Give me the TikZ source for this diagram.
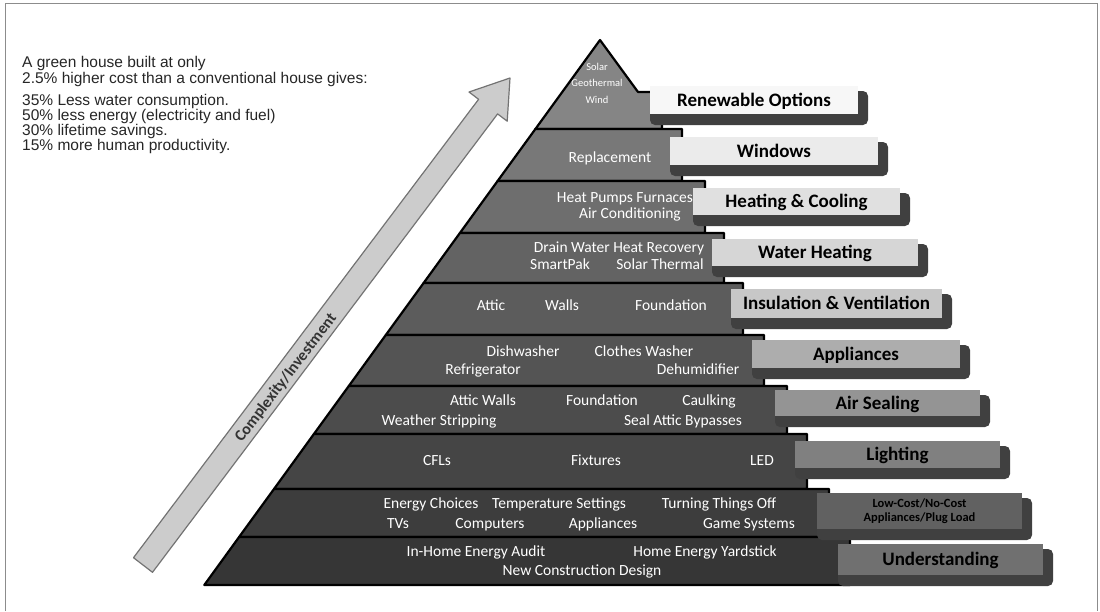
\documentclass[tikz,border=0pt]{standalone}
\usepackage{fontspec}
\setmainfont{Carlito}
\newfontfamily\arialf{Liberation Sans}
\usetikzlibrary{calc}
\newcommand{\pyrtab}[7]{%
  \fill[tabshade] (#2,#3+5) rectangle (#4+10,#5+11);
  \fill[#6] (#2,#3) rectangle (#4,#5);
  \node[tabtxt] (#1) at ({(#2+#4)/2},{(#3+#5)/2+6}) {#7};
}
\begin{document}
\begin{tikzpicture}[x=1pt,y=-1pt,
  band/.style={draw=black, line width=2.2pt, line join=round},
  btxt/.style={text=white, font=\fontsize{15.5}{17}\selectfont, anchor=base, inner sep=0pt},
  stxt/.style={text=white, font=\fontsize{10.5}{11}\selectfont, anchor=base, inner sep=0pt},
  tabtxt/.style={text=black, font=\bfseries\fontsize{19}{20}\selectfont, anchor=base, inner sep=0pt},
  tabshade/.style={black!75, rounded corners=5pt},
  ltxt/.style={text=black!85, font=\arialf\fontsize{15.5}{16}\selectfont, anchor=base west, inner sep=0pt},
  arrowbody/.style={fill=black!20, draw=black!55, line width=1.2pt, line join=round},
  arrowtxt/.style={text=black!80, font=\bfseries\fontsize{16}{16}\selectfont, inner sep=0pt}
]
\useasboundingbox (0,0) rectangle (1100,611);
% frame
\draw[black!45, line width=1pt] (5,611) -- (5,3) -- (1097,3) -- (1097,611);

% left text
\node[ltxt] (l1) at (22,67) {A green house built at only};
\node[ltxt] (l2) at (22,83) {2.5\% higher cost than a conventional house gives:};
\node[ltxt] (l3) at (22,105) {35\% Less water consumption.};
\node[ltxt] (l4) at (22,120) {50\% less energy (electricity and fuel)};
\node[ltxt] (l5) at (22,135) {30\% lifetime savings.};
\node[ltxt] (l6) at (22,150) {15\% more human productivity.};

% arrow
\coordinate (ab1) at (152.5,572.3);
\coordinate (ab2) at (133.5,557.7);
\coordinate (ah1) at (497.6,113.9);
\coordinate (ah2) at (507.2,121.2);
\coordinate (atip) at (510,78);
\coordinate (ah3) at (469.0,92.0);
\coordinate (ah4) at (478.6,99.3);
\path[arrowbody] (ab1) -- (ah1) -- (ah2) -- (atip) -- (ah3) -- (ah4) -- (ab2) -- cycle;
\node[arrowtxt, rotate=52.6] (ctxt) at (286,378) {Complexity/Investment};

% bands
\path[band, fill=black!48] (600,40) -- (638,92) -- (662,92) -- (662,129) -- (535.4,129) -- cycle;
\path[band, fill=black!53] (535.4,129) -- (682,129) -- (682,181) -- (497.6,181) -- cycle;
\path[band, fill=black!57] (497.6,181) -- (705,181) -- (705,233) -- (459.9,233) -- cycle;
\path[band, fill=black!61] (459.9,233) -- (724,233) -- (724,283) -- (423.6,283) -- cycle;
\path[band, fill=black!64] (423.6,283) -- (743,283) -- (743,335) -- (385.8,335) -- cycle;
\path[band, fill=black!67] (385.8,335) -- (764,335) -- (764,386) -- (348.8,386) -- cycle;
\path[band, fill=black!70] (348.8,386) -- (787,386) -- (787,434) -- (313.9,434) -- cycle;
\path[band, fill=black!73] (313.9,434) -- (807,434) -- (807,489) -- (274,489) -- cycle;
\path[band, fill=black!76] (274,489) -- (829,489) -- (829,537) -- (239.1,537) -- cycle;
\path[band, fill=black!79] (239.1,537) -- (850,537) -- (850,585) -- (204.3,585) -- cycle;

% tabs
\pyrtab{t1}{650}{86}{858}{114}{black!3}{Renewable Options}
\pyrtab{t2}{670}{137}{878}{165}{black!8}{Windows}
\pyrtab{t3}{693}{188}{900}{215}{black!12}{Heating \& Cooling}
\pyrtab{t4}{712}{239}{918}{266}{black!16}{Water Heating}
\pyrtab{t5}{731}{289}{942}{318}{black!22}{Insulation \& Ventilation}
\pyrtab{t6}{752}{340}{960}{368}{black!32}{Appliances}
\pyrtab{t7}{775}{390}{980}{416}{black!42}{Air Sealing}
\pyrtab{t8}{795}{441}{1000}{468}{black!50}{Lighting}
\fill[tabshade] (817,498) rectangle (1032,540);
\fill[black!62] (817,493) rectangle (1022,529);
\node[text=black, font=\bfseries\fontsize{12.5}{13.5}\selectfont, align=center, inner sep=0pt] (t9) at (919.5,511) {Low-Cost/No-Cost\\Appliances/Plug Load};
\pyrtab{t10}{838}{544}{1043}{575}{black!56}{Understanding}

% band texts
\node[stxt] (s1) at (597,70) {Solar};
\node[stxt] (s2) at (597,86) {Geothermal};
\node[stxt] (s3) at (597,103) {Wind};
\node[btxt] (r2) at (610,162) {Replacement};
\node[btxt] (r3a) at (625,202) {Heat Pumps Furnaces};
\node[btxt] (r3b) at (630,218) {Air Conditioning};
\node[btxt] (r4a) at (619,252) {Drain Water Heat Recovery};
\node[btxt] (r4b) at (560,269) {SmartPak};
\node[btxt] (r4c) at (660,269) {Solar Thermal};
\node[btxt] (r5a) at (491,310) {Attic};
\node[btxt] (r5b) at (562,310) {Walls};
\node[btxt] (r5c) at (671,310) {Foundation};
\node[btxt] (r6a) at (523,356) {Dishwasher};
\node[btxt] (r6b) at (644,356) {Clothes Washer};
\node[btxt] (r6c) at (483,374) {Refrigerator};
\node[btxt] (r6d) at (698,374) {Dehumidifier};
\node[btxt] (r7a) at (483,405) {Attic Walls};
\node[btxt] (r7b) at (602,405) {Foundation};
\node[btxt] (r7c) at (709,405) {Caulking};
\node[btxt] (r7d) at (439,425) {Weather Stripping};
\node[btxt] (r7e) at (683,425) {Seal Attic Bypasses};
\node[btxt] (r8a) at (437,465) {CFLs};
\node[btxt] (r8b) at (596,465) {Fixtures};
\node[btxt] (r8c) at (762,465) {LED};
\node[btxt] (r9a) at (431,508) {Energy Choices};
\node[btxt] (r9b) at (559,508) {Temperature Settings};
\node[btxt] (r9c) at (719,508) {Turning Things Off};
\node[btxt] (r9d) at (398,528) {TVs};
\node[btxt] (r9e) at (490,528) {Computers};
\node[btxt] (r9f) at (603,528) {Appliances};
\node[btxt] (r9g) at (749,528) {Game Systems};
\node[btxt] (r10a) at (476,556) {In-Home Energy Audit};
\node[btxt] (r10b) at (705,556) {Home Energy Yardstick};
\node[btxt] (r10c) at (582,575) {New Construction Design};
\end{tikzpicture}
\end{document}
